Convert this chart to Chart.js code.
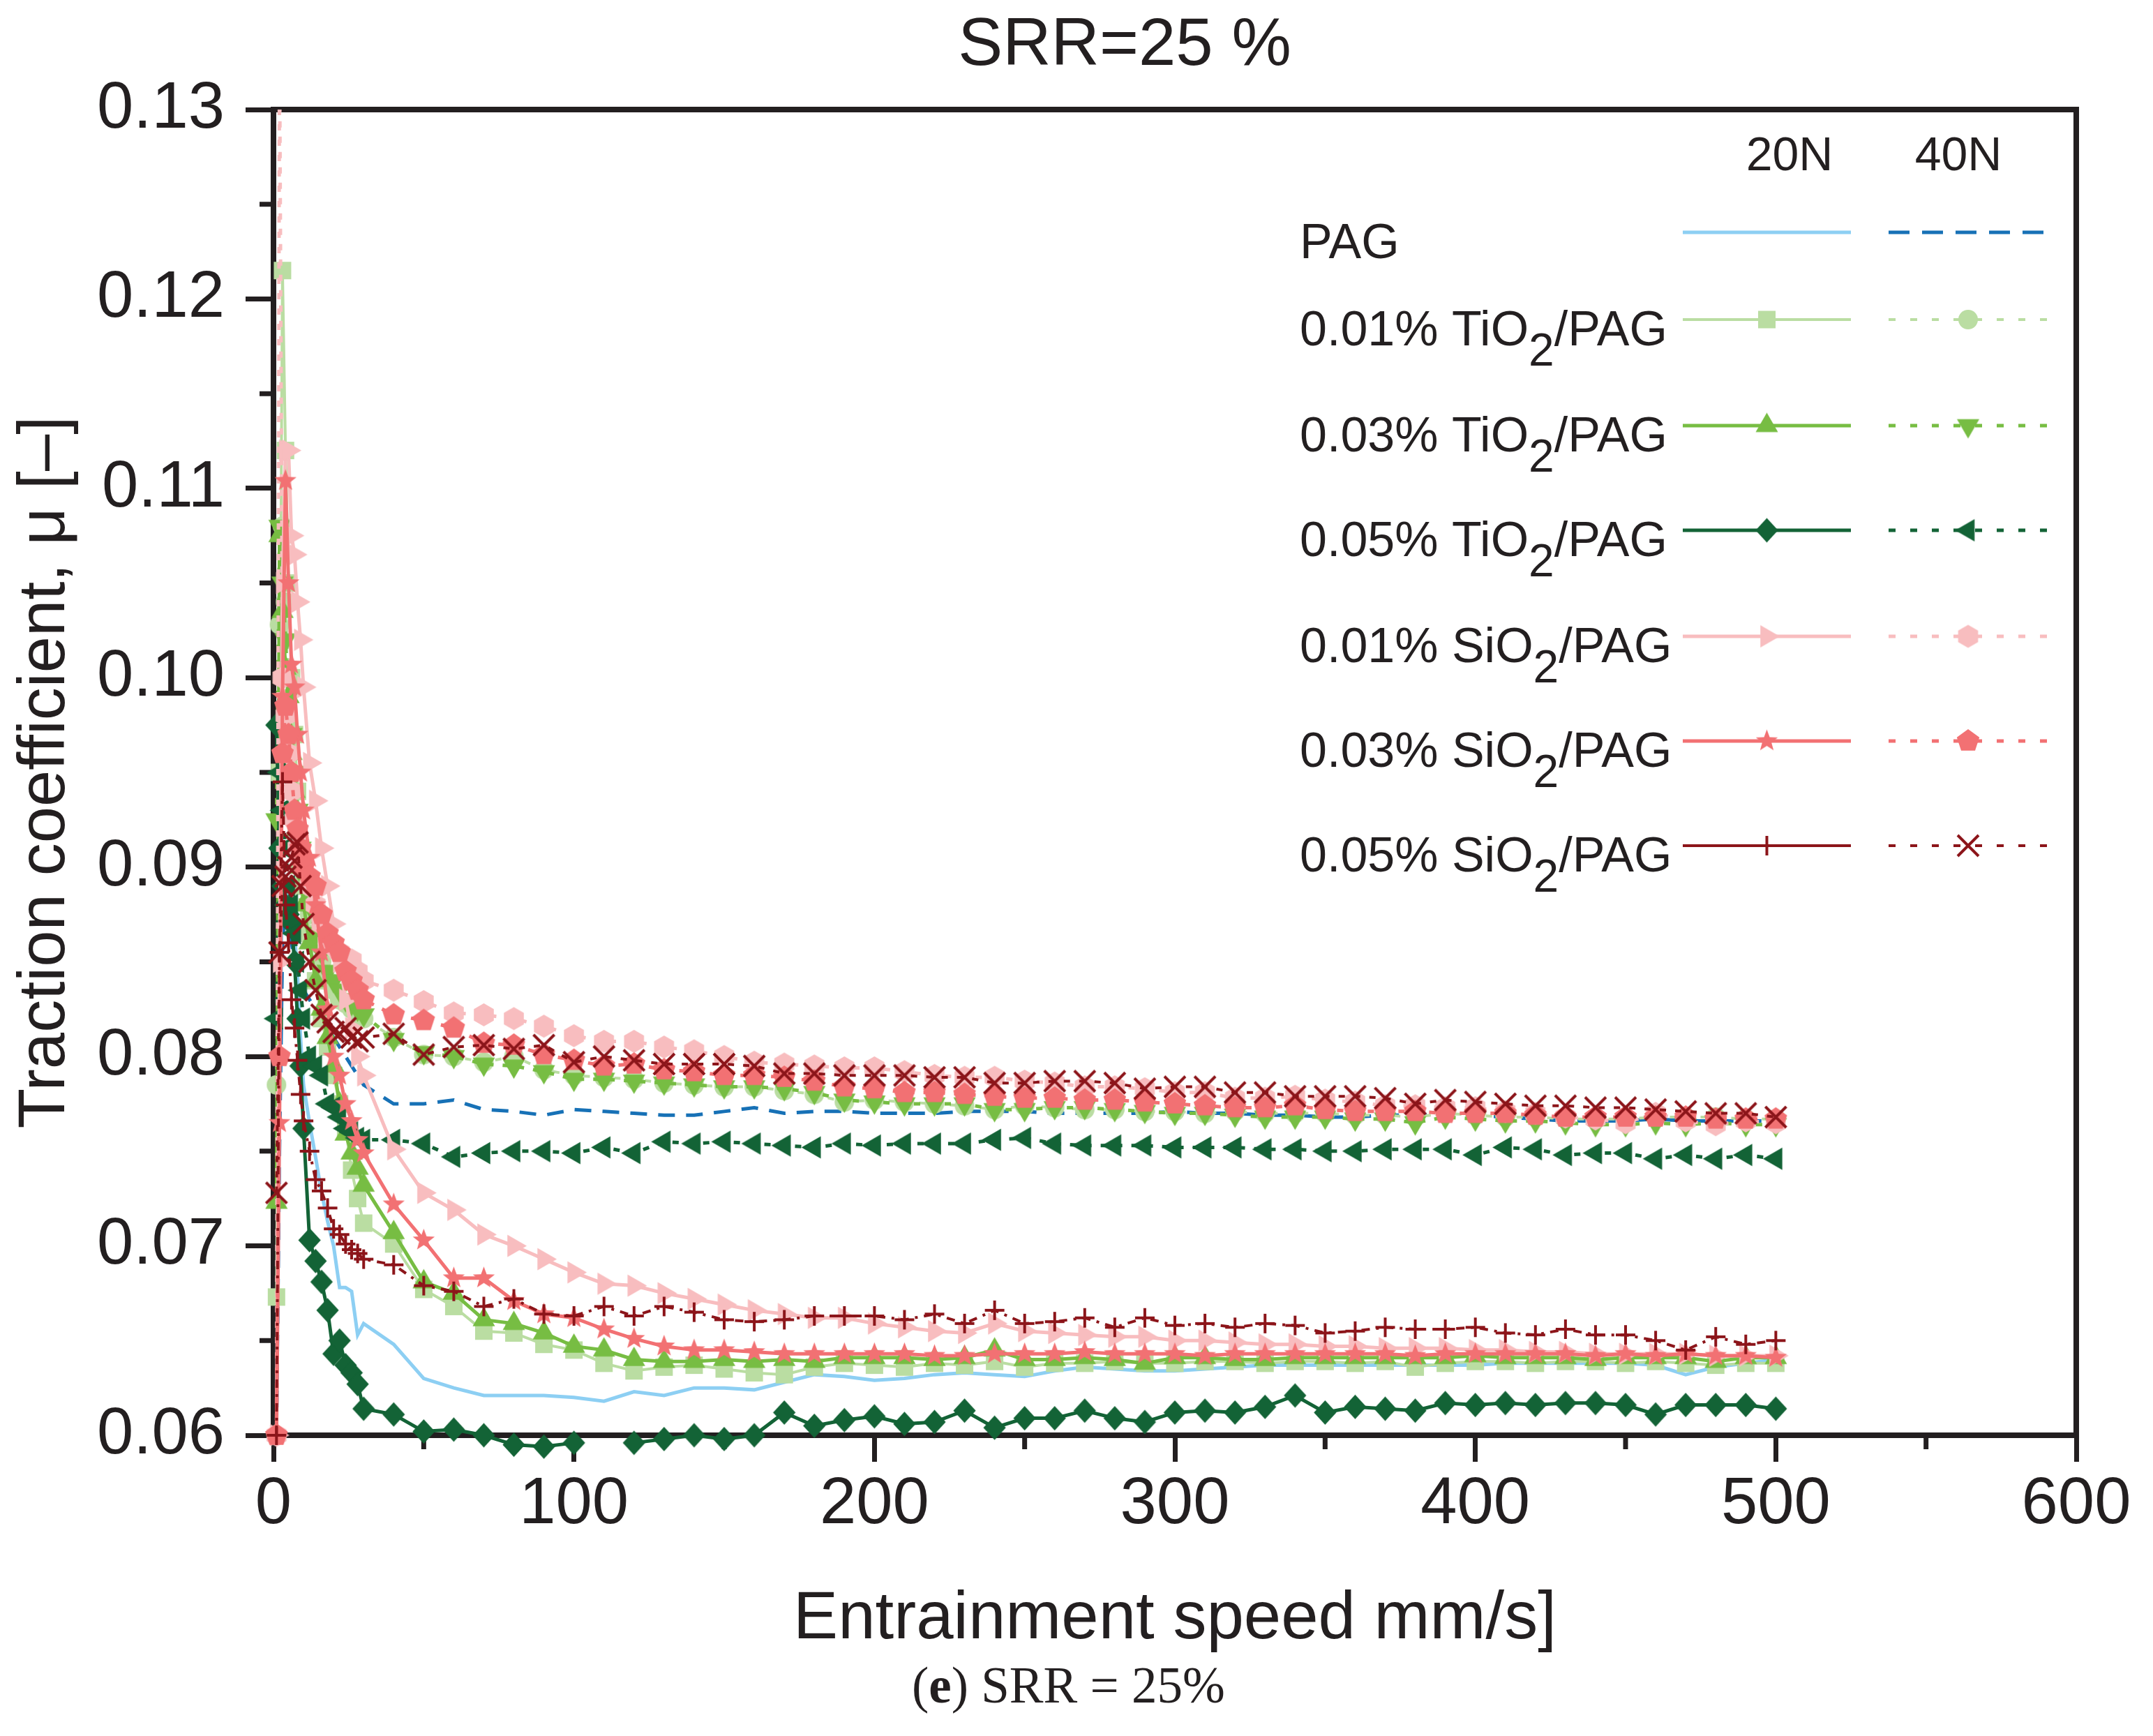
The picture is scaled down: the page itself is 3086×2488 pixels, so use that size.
<!DOCTYPE html>
<html>
<head>
<meta charset="utf-8">
<script src="https://cdn.jsdelivr.net/npm/chart.js@4.4.1/dist/chart.umd.min.js"></script>
<style>
html, body { margin: 0; padding: 0; background: #fff; }
#chartCanvas { display: block; }
</style>
</head>
<body>
<canvas id="chartCanvas" width="3086" height="2488"></canvas>
<script>
// entrainment speed, mm/s (same sampling for every run)
const speeds = [1, 2, 3, 4, 5, 6, 7, 8, 9, 10, 12, 14, 16, 18, 20, 22, 24, 26, 28, 30,
    40, 50, 60, 70, 80, 90, 100, 110, 120, 130, 140, 150, 160, 170, 180, 190,
    200, 210, 220, 230, 240, 250, 260, 270, 280, 290, 300, 310, 320, 330, 340, 350,
    360, 370, 380, 390, 400, 410, 420, 430, 440, 450, 460, 470, 480, 490, 500];

const xTicks = [0, 100, 200, 300, 400, 500, 600];
const yTicks = [0.06, 0.07, 0.08, 0.09, 0.10, 0.11, 0.12, 0.13];

// traction coefficient, one array per oil and load
const pag20 = [0.0600, 0.0780, 0.0900, 0.0890, 0.0880, 0.0870, 0.0865, 0.0843, 0.0810, 0.0785, 0.0765, 0.0747, 0.0728, 0.0713, 0.0700, 0.0678, 0.0678, 0.0676, 0.0653, 0.0659,
    0.0648, 0.0630, 0.0625, 0.0621, 0.0621, 0.0621, 0.0620, 0.0618, 0.0623, 0.0621, 0.0625, 0.0625, 0.0624, 0.0628, 0.0632, 0.0631,
    0.0629, 0.0630, 0.0632, 0.0633, 0.0632, 0.0631, 0.0634, 0.0636, 0.0635, 0.0634, 0.0634, 0.0635, 0.0636, 0.0637, 0.0637, 0.0637,
    0.0637, 0.0637, 0.0637, 0.0637, 0.0637, 0.0638, 0.0638, 0.0638, 0.0638, 0.0638, 0.0637, 0.0632, 0.0636, 0.0638, 0.0640];
const pag40 = [0.0600, 0.0750, 0.0860, 0.0880, 0.0870, 0.0860, 0.0850, 0.0845, 0.0840, 0.0835, 0.0830, 0.0825, 0.0820, 0.0815, 0.0810, 0.0805, 0.0800, 0.0795, 0.0790, 0.0785,
    0.0775, 0.0775, 0.0777, 0.0772, 0.0771, 0.0769, 0.0772, 0.0771, 0.0770, 0.0769, 0.0769, 0.0771, 0.0773, 0.0770, 0.0771, 0.0771,
    0.0770, 0.0770, 0.0770, 0.0771, 0.0771, 0.0771, 0.0770, 0.0770, 0.0770, 0.0770, 0.0771, 0.0770, 0.0770, 0.0769, 0.0769, 0.0768,
    0.0768, 0.0769, 0.0769, 0.0769, 0.0769, 0.0768, 0.0767, 0.0766, 0.0766, 0.0766, 0.0767, 0.0766, 0.0766, 0.0766, 0.0766];
const ti01_20 = [0.0673, 0.0950, 0.1215, 0.1120, 0.1050, 0.1000, 0.0970, 0.0940, 0.0910, 0.0890, 0.0865, 0.0840, 0.0820, 0.0805, 0.0790, 0.0775, 0.0762, 0.0740, 0.0725, 0.0712,
    0.0701, 0.0677, 0.0668, 0.0655, 0.0654, 0.0648, 0.0645, 0.0638, 0.0634, 0.0636, 0.0637, 0.0635, 0.0633, 0.0632, 0.0636, 0.0638,
    0.0637, 0.0636, 0.0638, 0.0637, 0.0639, 0.0636, 0.0638, 0.0638, 0.0639, 0.0638, 0.0638, 0.0639, 0.0639, 0.0638, 0.0639, 0.0639,
    0.0638, 0.0639, 0.0636, 0.0638, 0.0639, 0.0639, 0.0638, 0.0639, 0.0639, 0.0638, 0.0639, 0.0638, 0.0637, 0.0638, 0.0638];
const ti01_40 = [0.0785, 0.1028, 0.1080, 0.1040, 0.1000, 0.0970, 0.0940, 0.0920, 0.0900, 0.0890, 0.0875, 0.0860, 0.0850, 0.0840, 0.0835, 0.0830, 0.0828, 0.0825, 0.0822, 0.0820,
    0.0810, 0.0801, 0.0800, 0.0797, 0.0800, 0.0793, 0.0790, 0.0789, 0.0788, 0.0786, 0.0785, 0.0784, 0.0784, 0.0782, 0.0780, 0.0776,
    0.0777, 0.0776, 0.0775, 0.0774, 0.0772, 0.0774, 0.0773, 0.0772, 0.0772, 0.0771, 0.0771, 0.0770, 0.0771, 0.0770, 0.0770, 0.0770,
    0.0769, 0.0769, 0.0768, 0.0770, 0.0769, 0.0768, 0.0768, 0.0767, 0.0767, 0.0767, 0.0768, 0.0768, 0.0768, 0.0767, 0.0767];
const ti03_20 = [0.0723, 0.1075, 0.1035, 0.1005, 0.0990, 0.0960, 0.0940, 0.0920, 0.0900, 0.0880, 0.0860, 0.0840, 0.0825, 0.0810, 0.0795, 0.0775, 0.0759, 0.0749, 0.0741, 0.0732,
    0.0707, 0.0681, 0.0675, 0.0661, 0.0659, 0.0654, 0.0647, 0.0645, 0.0640, 0.0639, 0.0639, 0.0640, 0.0639, 0.0640, 0.0639, 0.0641,
    0.0641, 0.0641, 0.0640, 0.0641, 0.0645, 0.0640, 0.0640, 0.0641, 0.0640, 0.0638, 0.0641, 0.0641, 0.0640, 0.0640, 0.0641, 0.0641,
    0.0641, 0.0641, 0.0641, 0.0641, 0.0642, 0.0641, 0.0641, 0.0641, 0.0640, 0.0641, 0.0641, 0.0641, 0.0639, 0.0641, 0.0641];
const ti03_40 = [0.0925, 0.1080, 0.1050, 0.1020, 0.0990, 0.0970, 0.0950, 0.0930, 0.0910, 0.0895, 0.0880, 0.0865, 0.0855, 0.0845, 0.0840, 0.0835, 0.0830, 0.0828, 0.0825, 0.0822,
    0.0809, 0.0802, 0.0800, 0.0796, 0.0795, 0.0792, 0.0788, 0.0788, 0.0787, 0.0786, 0.0785, 0.0784, 0.0784, 0.0783, 0.0781, 0.0777,
    0.0776, 0.0775, 0.0775, 0.0775, 0.0772, 0.0772, 0.0773, 0.0773, 0.0772, 0.0771, 0.0770, 0.0770, 0.0769, 0.0768, 0.0768, 0.0768,
    0.0767, 0.0767, 0.0765, 0.0768, 0.0767, 0.0766, 0.0766, 0.0765, 0.0764, 0.0764, 0.0765, 0.0764, 0.0765, 0.0764, 0.0764];
const ti05_20 = [0.0975, 0.0910, 0.0890, 0.0880, 0.0875, 0.0870, 0.0850, 0.0820, 0.0795, 0.0762, 0.0703, 0.0692, 0.0681, 0.0666, 0.0643, 0.0650, 0.0637, 0.0633, 0.0627, 0.0614,
    0.0611, 0.0602, 0.0603, 0.0600, 0.0595, 0.0594, 0.0596, null, 0.0596, 0.0598, 0.0600, 0.0598, 0.0600, 0.0612, 0.0605, 0.0608,
    0.0610, 0.0606, 0.0607, 0.0613, 0.0604, 0.0609, 0.0609, 0.0613, 0.0609, 0.0607, 0.0612, 0.0613, 0.0612, 0.0615, 0.0621, 0.0612,
    0.0615, 0.0614, 0.0613, 0.0617, 0.0616, 0.0617, 0.0616, 0.0617, 0.0617, 0.0616, 0.0611, 0.0616, 0.0616, 0.0616, 0.0614];
const ti05_40 = [0.0820, 0.0950, 0.0930, 0.0910, 0.0890, 0.0880, 0.0865, 0.0850, 0.0835, 0.0820, 0.0800, 0.0795, 0.0790, 0.0775, 0.0773, 0.0768, 0.0762, 0.0760, 0.0757, 0.0756,
    0.0756, 0.0754, 0.0747, 0.0749, 0.0750, 0.0750, 0.0749, 0.0752, 0.0749, 0.0755, 0.0754, 0.0755, 0.0754, 0.0753, 0.0752, 0.0754,
    0.0753, 0.0754, 0.0754, 0.0754, 0.0756, 0.0757, 0.0754, 0.0753, 0.0753, 0.0753, 0.0752, 0.0752, 0.0752, 0.0751, 0.0751, 0.0750,
    0.0750, 0.0751, 0.0751, 0.0751, 0.0748, 0.0752, 0.0751, 0.0748, 0.0749, 0.0749, 0.0746, 0.0748, 0.0746, 0.0748, 0.0746];
const si01_20 = [0.0600, 0.0850, 0.1050, 0.1120, 0.1120, 0.1075, 0.1065, 0.1040, 0.1020, 0.0995, 0.0955, 0.0935, 0.0910, 0.0890, 0.0870, 0.0850, 0.0830, 0.0815, 0.0800, 0.0790,
    0.0751, 0.0728, 0.0719, 0.0706, 0.0700, 0.0693, 0.0686, 0.0680, 0.0679, 0.0675, 0.0672, 0.0669, 0.0666, 0.0664, 0.0662, 0.0662,
    0.0659, 0.0657, 0.0655, 0.0654, 0.0659, 0.0655, 0.0654, 0.0653, 0.0652, 0.0652, 0.0650, 0.0650, 0.0649, 0.0648, 0.0648, 0.0647,
    0.0647, 0.0646, 0.0646, 0.0646, 0.0645, 0.0645, 0.0644, 0.0644, 0.0643, 0.0643, 0.0643, 0.0643, 0.0642, 0.0642, 0.0642];
const si01_40 = [0.0600, 0.1340, 0.1000, 0.0980, 0.0960, 0.0940, 0.0925, 0.0910, 0.0905, 0.0900, 0.0890, 0.0880, 0.0870, 0.0860, 0.0858, 0.0855, 0.0852, 0.0851, 0.0845, 0.0840,
    0.0835, 0.0829, 0.0823, 0.0822, 0.0820, 0.0816, 0.0811, 0.0808, 0.0808, 0.0805, 0.0803, 0.0800, 0.0797, 0.0796, 0.0795, 0.0794,
    0.0794, 0.0792, 0.0790, 0.0789, 0.0789, 0.0787, 0.0786, 0.0784, 0.0784, 0.0783, 0.0781, 0.0781, 0.0778, 0.0778, 0.0779, 0.0777,
    0.0776, 0.0774, 0.0774, 0.0773, 0.0773, 0.0771, 0.0770, 0.0768, 0.0767, 0.0765, 0.0770, 0.0766, 0.0764, 0.0766, 0.0765];
const si03_20 = [0.0600, 0.0765, 0.0990, 0.1104, 0.1050, 0.1007, 0.0995, 0.0970, 0.0950, 0.0930, 0.0905, 0.0880, 0.0855, 0.0825, 0.0800, 0.0790, 0.0775, 0.0766, 0.0756, 0.0749,
    0.0722, 0.0703, 0.0683, 0.0683, 0.0671, 0.0664, 0.0662, 0.0656, 0.0651, 0.0647, 0.0645, 0.0645, 0.0644, 0.0643, 0.0643, 0.0643,
    0.0643, 0.0643, 0.0642, 0.0642, 0.0643, 0.0643, 0.0643, 0.0644, 0.0643, 0.0643, 0.0643, 0.0642, 0.0643, 0.0643, 0.0643, 0.0643,
    0.0643, 0.0643, 0.0642, 0.0643, 0.0643, 0.0643, 0.0643, 0.0643, 0.0642, 0.0643, 0.0642, 0.0643, 0.0642, 0.0642, 0.0641];
const si03_40 = [0.0600, 0.0800, 0.0960, 0.0985, 0.0970, 0.0950, 0.0930, 0.0920, 0.0910, 0.0900, 0.0895, 0.0890, 0.0875, 0.0865, 0.0860, 0.0855, 0.0845, 0.0840, 0.0835, 0.0830,
    0.0822, 0.0819, 0.0815, 0.0807, 0.0806, 0.0801, 0.0798, 0.0795, 0.0796, 0.0793, 0.0792, 0.0790, 0.0790, 0.0789, 0.0787, 0.0784,
    0.0783, 0.0781, 0.0781, 0.0780, 0.0779, 0.0778, 0.0778, 0.0777, 0.0777, 0.0776, 0.0775, 0.0774, 0.0773, 0.0773, 0.0774, 0.0772,
    0.0771, 0.0771, 0.0771, 0.0770, 0.0770, 0.0770, 0.0769, 0.0768, 0.0768, 0.0768, 0.0768, 0.0768, 0.0767, 0.0767, 0.0767];
const si05_20 = [0.0600, 0.0855, 0.0945, 0.0880, 0.0860, 0.0830, 0.0815, 0.0798, 0.0780, 0.0766, 0.0750, 0.0735, 0.0729, 0.0720, 0.0709, 0.0706, 0.0701, 0.0698, 0.0696, 0.0693,
    0.0690, 0.0679, 0.0676, 0.0668, 0.0672, 0.0664, 0.0663, 0.0668, 0.0663, 0.0668, 0.0665, 0.0661, 0.0660, 0.0661, 0.0663, 0.0663,
    0.0663, 0.0661, 0.0664, 0.0659, 0.0666, 0.0659, 0.0660, 0.0662, 0.0657, 0.0662, 0.0658, 0.0659, 0.0657, 0.0659, 0.0658, 0.0654,
    0.0655, 0.0657, 0.0656, 0.0656, 0.0657, 0.0654, 0.0653, 0.0656, 0.0653, 0.0653, 0.0650, 0.0645, 0.0652, 0.0648, 0.0650];
const si05_40 = [0.0728, 0.0855, 0.0890, 0.0895, 0.0900, 0.0905, 0.0912, 0.0913, 0.0890, 0.0870, 0.0850, 0.0835, 0.0822, 0.0818, 0.0813, 0.0812, 0.0815, 0.0810, 0.0808, 0.0810,
    0.0812, 0.0801, 0.0805, 0.0806, 0.0804, 0.0806, 0.0797, 0.0800, 0.0798, 0.0796, 0.0796, 0.0796, 0.0795, 0.0791, 0.0791, 0.0790,
    0.0790, 0.0790, 0.0789, 0.0789, 0.0786, 0.0786, 0.0787, 0.0787, 0.0786, 0.0783, 0.0784, 0.0784, 0.0781, 0.0781, 0.0779, 0.0779,
    0.0779, 0.0778, 0.0775, 0.0777, 0.0776, 0.0775, 0.0774, 0.0774, 0.0773, 0.0773, 0.0772, 0.0771, 0.0770, 0.0770, 0.0768];

const INK = "#231f20";
const SANS = '"Liberation Sans", Arial, Helvetica, sans-serif';
const SERIF = '"Liberation Serif", "Times New Roman", serif';

// marker glyphs drawn once on small canvases
function polygon(g, cx, cy, n, r, startDeg) {
    for (let k = 0; k < n; k++) {
        const a = (startDeg + k * 360 / n) * Math.PI / 180;
        const px = cx + r * Math.cos(a), py = cy + r * Math.sin(a);
        if (k === 0) g.moveTo(px, py); else g.lineTo(px, py);
    }
    g.closePath();
}

function makeMarker(shape, color, r) {
    const size = Math.ceil(2 * r + 6);
    const c = document.createElement("canvas");
    c.width = size;
    c.height = size;
    const g = c.getContext("2d");
    const m = size / 2;
    g.fillStyle = color;
    g.strokeStyle = color;
    g.beginPath();
    if (shape === "square") {
        g.rect(m - r, m - r, 2 * r, 2 * r);
    } else if (shape === "circle") {
        g.arc(m, m, r, 0, Math.PI * 2);
    } else if (shape === "diamond") {
        g.moveTo(m, m - r); g.lineTo(m + r * 0.92, m); g.lineTo(m, m + r); g.lineTo(m - r * 0.92, m);
        g.closePath();
    } else if (shape === "triUp") {
        polygon(g, m, m, 3, r, -90);
    } else if (shape === "triDown") {
        polygon(g, m, m, 3, r, 90);
    } else if (shape === "triLeft") {
        polygon(g, m, m, 3, r, 180);
    } else if (shape === "triRight") {
        polygon(g, m, m, 3, r, 0);
    } else if (shape === "hexagon") {
        polygon(g, m, m, 6, r, -90);
    } else if (shape === "pentagon") {
        polygon(g, m, m, 5, r, -90);
    } else if (shape === "star") {
        for (let k = 0; k < 10; k++) {
            const rr = k % 2 === 0 ? r : r * 0.42;
            const a = (-90 + k * 36) * Math.PI / 180;
            if (k === 0) g.moveTo(m + rr * Math.cos(a), m + rr * Math.sin(a));
            else g.lineTo(m + rr * Math.cos(a), m + rr * Math.sin(a));
        }
        g.closePath();
    }
    if (shape === "plus" || shape === "cross") {
        g.lineWidth = 4;
        if (shape === "plus") {
            g.moveTo(m - r, m); g.lineTo(m + r, m);
            g.moveTo(m, m - r); g.lineTo(m, m + r);
        } else {
            g.moveTo(m - r, m - r); g.lineTo(m + r, m + r);
            g.moveTo(m + r, m - r); g.lineTo(m - r, m + r);
        }
        g.stroke();
    } else {
        g.fill();
    }
    return c;
}

const DOT = [9, 13];

const seriesList = [
    { data: pag20,   color: "#8dcff3", width: 5, dash: [],             shape: null,       r: 0 },
    { data: pag40,   color: "#1771b6", width: 5, dash: [24, 16],       shape: null,       r: 0 },
    { data: ti01_20, color: "#badda2", width: 4, dash: [],             shape: "square",   r: 12.5 },
    { data: ti01_40, color: "#badda2", width: 4, dash: DOT,            shape: "circle",   r: 14 },
    { data: ti03_20, color: "#77bd43", width: 5, dash: [],             shape: "triUp",    r: 18.5 },
    { data: ti03_40, color: "#77bd43", width: 5, dash: DOT,            shape: "triDown",  r: 18.5 },
    { data: ti05_20, color: "#136336", width: 5, dash: [],             shape: "diamond",  r: 17.5 },
    { data: ti05_40, color: "#136336", width: 5, dash: DOT,            shape: "triLeft",  r: 18.5 },
    { data: si01_20, color: "#f8bdbf", width: 5, dash: [],             shape: "triRight", r: 18.5 },
    { data: si01_40, color: "#f8bdbf", width: 5, dash: DOT,            shape: "hexagon",  r: 16.5 },
    { data: si03_20, color: "#f27173", width: 5, dash: [],             shape: "star",     r: 16.5 },
    { data: si03_40, color: "#f27173", width: 5, dash: DOT,            shape: "pentagon", r: 17 },
    { data: si05_20, color: "#8c151a", width: 4, dash: [12, 9, 4, 9],  shape: "plus",     r: 14 },
    { data: si05_40, color: "#8c151a", width: 4, dash: DOT,            shape: "cross",    r: 15 }
];

seriesList.forEach(s => {
    s.marker = s.shape ? makeMarker(s.shape, s.color, s.r) : null;
});

const datasets = seriesList.map((s, i) => ({
    data: speeds.map((x, j) => ({ x: x, y: s.data[j] })),
    borderColor: s.color,
    backgroundColor: s.color,
    borderWidth: s.width,
    borderDash: s.dash,
    pointStyle: s.marker || "circle",
    pointRadius: s.marker ? s.r + 2 : 0,
    pointHoverRadius: s.marker ? s.r + 2 : 0,
    pointBorderWidth: 0,
    tension: 0,
    spanGaps: false,
    clip: { left: false, top: 0, right: false, bottom: false },
    order: 100 - i
}));

// legend rows: text pieces (piece[1] = subscript) and the two series shown
const legendRows = [
    { text: [["PAG", 0]], a: 0, b: 1 },
    { text: [["0.01% TiO", 0], ["2", 1], ["/PAG", 0]], a: 2, b: 3 },
    { text: [["0.03% TiO", 0], ["2", 1], ["/PAG", 0]], a: 4, b: 5 },
    { text: [["0.05% TiO", 0], ["2", 1], ["/PAG", 0]], a: 6, b: 7 },
    { text: [["0.01% SiO", 0], ["2", 1], ["/PAG", 0]], a: 8, b: 9 },
    { text: [["0.03% SiO", 0], ["2", 1], ["/PAG", 0]], a: 10, b: 11 },
    { text: [["0.05% SiO", 0], ["2", 1], ["/PAG", 0]], a: 12, b: 13 }
];
const legendLineY = [333, 458, 610, 760, 912, 1062, 1212];

function drawSample(ctx, s, x0, x1, y, dash) {
    ctx.save();
    ctx.strokeStyle = s.color;
    ctx.lineWidth = s.width;
    ctx.setLineDash(dash);
    ctx.beginPath();
    ctx.moveTo(x0, y);
    ctx.lineTo(x1, y);
    ctx.stroke();
    ctx.restore();
    if (s.marker) {
        const mx = (x0 + x1) / 2;
        ctx.drawImage(s.marker, mx - s.marker.width / 2, y - s.marker.height / 2);
    }
}

const decor = {
    id: "decor",
    beforeDatasetsDraw(chart) {
        const ctx = chart.ctx;
        const a = chart.chartArea;
        const xs = chart.scales.x, ys = chart.scales.y;
        ctx.save();
        ctx.strokeStyle = INK;
        // minor ticks
        ctx.lineWidth = 7;
        ctx.beginPath();
        for (let v = 50; v < 600; v += 100) {
            const px = xs.getPixelForValue(v);
            ctx.moveTo(px, a.bottom);
            ctx.lineTo(px, a.bottom + 20);
        }
        for (let k = 0; k < 7; k++) {
            const py = ys.getPixelForValue(0.065 + k * 0.01);
            ctx.moveTo(a.left, py);
            ctx.lineTo(a.left - 20, py);
        }
        ctx.stroke();
        // frame
        ctx.lineWidth = 8;
        ctx.strokeRect(a.left, a.top, a.right - a.left, a.bottom - a.top);
        ctx.restore();
    },
    afterDraw(chart) {
        const ctx = chart.ctx;
        const a = chart.chartArea;
        ctx.save();
        ctx.fillStyle = INK;
        ctx.textBaseline = "alphabetic";

        // title
        ctx.font = "96px " + SANS;
        ctx.textAlign = "center";
        ctx.fillText("SRR=25 %", 1612, 93);

        // axis titles
        ctx.font = "96px " + SANS;
        ctx.fillText("Entrainment speed mm/s]", (a.left + a.right) / 2, 2348);
        ctx.save();
        ctx.translate(92, (a.top + a.bottom) / 2);
        ctx.rotate(-Math.PI / 2);
        ctx.font = "94px " + SANS;
        ctx.fillText("Traction coefficient, \u03bc [\u2013]", 0, 0);
        ctx.restore();

        // caption under the figure
        ctx.textAlign = "left";
        let cx = 1307;
        const capY = 2440;
        ctx.font = "73px " + SERIF;
        ctx.fillText("(", cx, capY);
        cx += ctx.measureText("(").width;
        ctx.font = "bold 73px " + SERIF;
        ctx.fillText("e", cx, capY);
        cx += ctx.measureText("e").width;
        ctx.font = "73px " + SERIF;
        ctx.fillText(") SRR = 25%", cx, capY);

        // legend
        ctx.font = "68px " + SANS;
        ctx.textAlign = "center";
        ctx.fillText("20N", 2565, 244);
        ctx.fillText("40N", 2807, 244);
        ctx.textAlign = "left";
        legendRows.forEach((row, i) => {
            const ly = legendLineY[i];
            let tx = 1863;
            row.text.forEach(piece => {
                if (piece[1]) {
                    ctx.font = "66px " + SANS;
                    ctx.fillText(piece[0], tx, ly + 66);
                } else {
                    ctx.font = "70px " + SANS;
                    ctx.fillText(piece[0], tx, ly + 37);
                }
                tx += ctx.measureText(piece[0]).width;
            });
            const s20 = seriesList[row.a];
            const s40 = seriesList[row.b];
            drawSample(ctx, s20, 2412, 2653, ly, []);
            drawSample(ctx, s40, 2707, 2935, ly, i === 0 ? [30, 18] : [10, 21]);
        });
        ctx.restore();
    }
};

new Chart(document.getElementById("chartCanvas").getContext("2d"), {
    type: "line",
    data: { datasets: datasets },
    options: {
        responsive: false,
        devicePixelRatio: 1,
        animation: false,
        events: [],
        layout: { padding: { left: 0, top: 157, right: 110, bottom: 0 } },
        plugins: {
            legend: { display: false },
            tooltip: { enabled: false },
            title: { display: false }
        },
        scales: {
            x: {
                type: "linear",
                min: xTicks[0],
                max: xTicks[xTicks.length - 1],
                afterBuildTicks: scale => { scale.ticks = xTicks.map(v => ({ value: v })); },
                afterFit: scale => { scale.height = 431; },
                border: { display: false },
                grid: { display: true, drawOnChartArea: false, drawTicks: true, tickLength: 38, tickWidth: 7, tickColor: INK },
                ticks: {
                    color: INK,
                    padding: 6,
                    maxRotation: 0,
                    autoSkip: false,
                    font: { family: SANS, size: 94 },
                    callback: v => String(v)
                }
            },
            y: {
                type: "linear",
                min: yTicks[0],
                max: yTicks[yTicks.length - 1],
                afterBuildTicks: scale => { scale.ticks = yTicks.map(v => ({ value: v })); },
                afterFit: scale => { scale.width = 392; },
                border: { display: false },
                grid: { display: true, drawOnChartArea: false, drawTicks: true, tickLength: 40, tickWidth: 7, tickColor: INK },
                ticks: {
                    color: INK,
                    padding: 30,
                    autoSkip: false,
                    font: { family: SANS, size: 94 },
                    callback: v => Number(v).toFixed(2)
                }
            }
        }
    },
    plugins: [decor]
});
</script>
</body>
</html>
